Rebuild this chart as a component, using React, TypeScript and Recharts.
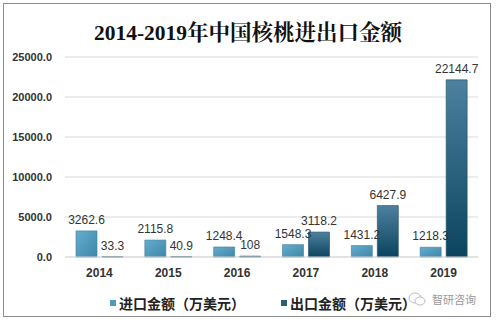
import { BarChart, Bar, XAxis, YAxis, CartesianGrid, LabelList } from 'recharts'

const years = ['2014', '2015', '2016', '2017', '2018', '2019']
const importValues = [3262.6, 2115.8, 1248.4, 1548.3, 1431.2, 1218.3]
const exportValues = [33.3, 40.9, 108, 3118.2, 6427.9, 22144.7]
const yTicks = [0, 5000, 10000, 15000, 20000, 25000]

const IMPORT_NAME = '进口金额（万美元）'
const EXPORT_NAME = '出口金额（万美元）'

const data = years.map((y, i) => ({
  year: y,
  imp: importValues[i],
  exp: exportValues[i],
}))

const SANS = '"Liberation Sans", Arial, sans-serif'
const CJK = '"Noto Sans CJK SC", sans-serif'

export default function App() {
  return (
    <div style={{ position: 'absolute', left: 0, top: 0, width: 496, height: 322, background: '#fff' }}>
      <div
        style={{
          position: 'absolute',
          left: 3,
          top: 3,
          width: 488,
          height: 314,
          border: '1px solid #8c8c8c',
          boxSizing: 'border-box',
        }}
      />
      <div
        style={{
          position: 'absolute',
          left: 0,
          top: 19,
          width: 496,
          textAlign: 'center',
          fontFamily: '"Liberation Serif", "Noto Serif CJK SC", serif',
          fontWeight: 'bold',
          fontSize: 21.5,
          color: '#111',
          lineHeight: '28px',
        }}
      >
        2014-2019年中国核桃进出口金额
      </div>
      <div style={{ position: 'absolute', left: 0, top: 0 }}>
        <BarChart
          width={496}
          height={322}
          data={data}
          margin={{ top: 57, right: 18, bottom: 35, left: 0 }}
          barSize={21}
          barGap={5}
        >
          <defs>
            <linearGradient id="impGrad" x1="0" y1="0" x2="1" y2="1">
              <stop offset="0%" stopColor="#64aed0" />
              <stop offset="100%" stopColor="#3f86a8" />
            </linearGradient>
            <linearGradient id="expGrad" x1="0" y1="0" x2="0" y2="1">
              <stop offset="0%" stopColor="#4d819f" />
              <stop offset="100%" stopColor="#0b445e" />
            </linearGradient>
          </defs>
          <CartesianGrid vertical={false} stroke="#d9d9d9" />
          <XAxis
            dataKey="year"
            axisLine={{ stroke: '#d9d9d9' }}
            tickLine={false}
            tick={{ fontSize: 12, fontWeight: 'bold', fill: '#333', fontFamily: SANS }}
            tickMargin={5}
          />
          <YAxis
            domain={[0, 25000]}
            ticks={yTicks}
            axisLine={false}
            tickLine={false}
            width={65}
            tickMargin={7}
            tickFormatter={(v: number) => v.toFixed(1)}
            tick={{ fontSize: 11, fontWeight: 'bold', fill: '#333', fontFamily: SANS }}
          />
          <Bar dataKey="imp" name={IMPORT_NAME} fill="url(#impGrad)" stroke="#3c7c9a" strokeWidth={0.6} isAnimationActive={false}>
            <LabelList dataKey="imp" position="top" offset={7} style={{ fontSize: 12, fill: '#333', fontFamily: SANS }} />
          </Bar>
          <Bar dataKey="exp" name={EXPORT_NAME} fill="url(#expGrad)" stroke="#1d4f66" strokeWidth={0.6} isAnimationActive={false}>
            <LabelList dataKey="exp" position="top" offset={7} style={{ fontSize: 12, fill: '#333', fontFamily: SANS }} />
          </Bar>
        </BarChart>
      </div>
      <div
        style={{
          position: 'absolute',
          left: 110,
          top: 293,
          display: 'flex',
          alignItems: 'center',
          fontFamily: CJK,
          fontWeight: 'bold',
          fontSize: 14,
          color: '#222',
          lineHeight: '20px',
        }}
      >
        <span style={{ width: 6, height: 6, background: '#4f9bbf', marginRight: 3, display: 'inline-block' }} />
        <span>{IMPORT_NAME}</span>
        <span style={{ width: 6, height: 6, background: '#2a5f7a', marginLeft: 36, marginRight: 3, display: 'inline-block' }} />
        <span>{EXPORT_NAME}</span>
      </div>
      <div
        style={{
          position: 'absolute',
          left: 408,
          top: 291,
          display: 'flex',
          alignItems: 'center',
          fontFamily: CJK,
          fontSize: 11,
          color: '#999',
        }}
      >
        <svg width={18} height={14} style={{ marginRight: 6 }}>
          <ellipse cx={7} cy={6} rx={6} ry={5} fill="none" stroke="#bbb" strokeWidth={1} />
          <ellipse cx={12} cy={9} rx={5} ry={4} fill="#fff" stroke="#bbb" strokeWidth={1} />
        </svg>
        <span>智研咨询</span>
      </div>
    </div>
  )
}
